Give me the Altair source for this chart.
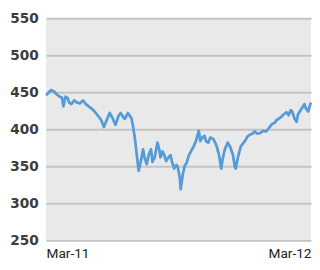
import altair as alt
import pandas as pd

# day offsets from 2011-03-01 and index values
days = [0, 3, 7, 11, 15, 19, 22, 24, 27, 30, 32, 35, 39, 43, 47, 51, 55, 59, 63, 68,
        72, 76, 80, 84, 88, 92, 96, 100, 103, 107, 109, 113, 118, 120, 123, 126, 128, 131, 134, 136,
        139, 142, 145, 147, 150, 154, 157, 158, 161, 163, 166, 169, 172, 174, 177, 180, 182, 185, 186, 189,
        192, 194, 197, 200, 204, 207, 209, 211, 213, 216, 219, 221, 224, 227, 231, 234, 236, 239, 242, 244,
        247, 251, 254, 258, 261, 262, 265, 269, 273, 276, 278, 282, 285, 288, 292, 296, 300, 303, 305, 308,
        312, 316, 319, 321, 324, 328, 332, 335, 338, 340, 343, 346, 348, 353, 355, 357, 359, 362, 365, 366]
values = [446, 449, 453, 451, 447, 444, 443, 431, 444, 442, 436, 434, 439, 436, 435, 439, 434, 431, 428, 423,
          418, 413, 403, 413, 422, 415, 406, 418, 422, 416, 414, 422, 415, 405, 386, 360, 344, 357, 373, 362,
          353, 366, 373, 356, 362, 382, 370, 362, 370, 366, 357, 362, 365, 356, 347, 352, 349, 333, 319, 340,
          352, 354, 364, 370, 377, 384, 391, 398, 384, 389, 391, 384, 382, 389, 387, 381, 376, 365, 347, 360,
          373, 382, 377, 366, 349, 347, 362, 377, 382, 386, 390, 393, 394, 397, 394, 395, 398, 397, 398, 402,
          407, 409, 413, 414, 416, 420, 423, 419, 426, 424, 415, 410, 420, 428, 431, 434, 428, 424, 434, 436]
y_ticks = [250, 300, 350, 400, 450, 500, 550]
x_ticks = ["2011-03-01", "2012-03-01"]

start = pd.Timestamp("2011-03-01")
df = pd.DataFrame({
    "date": [start + pd.Timedelta(days=d) for d in days],
    "value": values,
})

x_tick_vals = [alt.DateTime(year=int(s[:4]), month=int(s[5:7]), date=int(s[8:10])) for s in x_ticks]

chart = alt.Chart(df).mark_line(color="#559bd8", strokeWidth=2.8, strokeJoin="round").encode(
    x=alt.X("date:T",
            scale=alt.Scale(domain=x_tick_vals, nice=False),
            axis=alt.Axis(values=x_tick_vals, format="%b-%y", grid=False, domain=False, ticks=False,
                          labelFlush=True, labelFont="Roboto", labelFontSize=14, labelColor="#222222",
                          labelPadding=7, title=None)),
    y=alt.Y("value:Q",
            scale=alt.Scale(domain=[250, 550], nice=False, zero=False),
            axis=alt.Axis(values=y_ticks, grid=True, gridColor="#c3c3c3", gridWidth=2, domain=False,
                          ticks=False, labelFont="DejaVu Sans", labelFontWeight="bold", labelFontSize=14,
                          labelColor="#3c3c3c", labelPadding=8, title=None)),
).properties(
    width=272,
    height=228,
    background="white",
    padding={"left": 39, "top": 7, "right": 1, "bottom": 30},
    autosize=alt.AutoSizeParams(type="none"),
).configure_view(
    fill="#e9e9e9",
    stroke=None,
)

chart.save("out.html", embed_options={"renderer": "svg", "actions": False})
